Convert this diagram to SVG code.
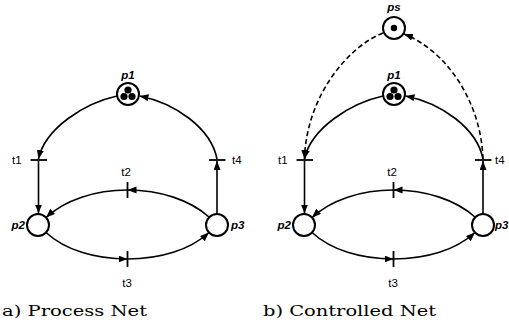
<svg xmlns="http://www.w3.org/2000/svg" width="509" height="324" viewBox="0 0 509 324">
<style>
.arc{fill:none;stroke:#000;stroke-width:1.6;marker-end:url(#ah)}
.dash{stroke-dasharray:5,3}
.place{fill:#fff;stroke:#000;stroke-width:2}
.bar{stroke:#000;stroke-width:1.8}
.tok{fill:#000}
.pl{font-family:"Liberation Sans",Arial,sans-serif;font-size:11.5px;font-weight:bold;font-style:italic}
.tl{font-family:"Liberation Sans",Arial,sans-serif;font-size:11.5px}
.cap{font-family:"DejaVu Serif","Liberation Serif",serif;font-size:15px}
</style>
<defs>
<marker id="ah" markerWidth="10" markerHeight="8" refX="9" refY="3.5" orient="auto" markerUnits="userSpaceOnUse">
<path d="M0,0 L9,3.5 L0,7 z" fill="#000"/>
</marker>
</defs>
<rect width="509" height="324" fill="#fff"/>
<g id="connectors">
<path class="arc" d="M117,96 C85,103 45,128 38.5,159"/>
<path class="arc" d="M38.5,161 L38.5,213.5"/>
<path class="arc" d="M217,214 L217,161"/>
<path class="arc" d="M217,159 C211,128 175,103 139.5,96"/>
<path class="arc" d="M209,217 C190,200 160,190 127.5,190"/>
<path class="arc" d="M127.5,190 C95,190 65,200 46,217.5"/>
<path class="arc" d="M46,232.5 C65,250 95,259 127.5,259"/>
<path class="arc" d="M127.5,259 C160,259 190,250 209,232.5"/>
<path class="arc" d="M383,96 C351,103 311,128 304.5,159"/>
<path class="arc" d="M304.5,161 L304.5,213.5"/>
<path class="arc" d="M483,214 L483,161"/>
<path class="arc" d="M483,159 C477,128 441,103 405.5,96"/>
<path class="arc" d="M475,217 C456,200 426,190 393.5,190"/>
<path class="arc" d="M393.5,190 C361,190 331,200 312,217.5"/>
<path class="arc" d="M312,232.5 C331,250 361,259 393.5,259"/>
<path class="arc" d="M393.5,259 C426,259 456,250 475,232.5"/>
<path class="arc dash" d="M383,33 C345,48 306,100 304.5,159"/>
<path class="arc dash" d="M483,159 C481,100 445,50 404,34"/>
</g>
<g id="a_p1"><circle class="place" cx="128" cy="94" r="11"/><circle class="tok" cx="128" cy="90" r="3.6"/><circle class="tok" cx="124" cy="96.5" r="3.6"/><circle class="tok" cx="132" cy="96.5" r="3.6"/><text class="pl" x="128" y="79" text-anchor="middle">p1</text></g>
<g id="a_p2"><circle class="place" cx="38" cy="225" r="11"/><text class="pl" x="25" y="229" text-anchor="end">p2</text></g>
<g id="a_p3"><circle class="place" cx="217" cy="225" r="11"/><text class="pl" x="231" y="229">p3</text></g>
<g id="a_t1"><line class="bar" x1="30.5" y1="160" x2="47" y2="160"/><text class="tl" x="12" y="164">t1</text></g>
<g id="a_t4"><line class="bar" x1="209" y1="160" x2="225.5" y2="160"/><text class="tl" x="232" y="164">t4</text></g>
<g id="a_t2"><line class="bar" x1="127.5" y1="182" x2="127.5" y2="198"/><text class="tl" x="126" y="176" text-anchor="middle">t2</text></g>
<g id="a_t3"><line class="bar" x1="127.5" y1="251" x2="127.5" y2="267"/><text class="tl" x="127" y="287" text-anchor="middle">t3</text></g>
<g id="b_ps"><circle class="place" cx="394" cy="28" r="11"/><circle class="tok" cx="394" cy="28" r="3.2"/><text class="pl" x="394" y="11" text-anchor="middle">ps</text></g>
<g id="b_p1"><circle class="place" cx="394" cy="94" r="11"/><circle class="tok" cx="394" cy="90" r="3.6"/><circle class="tok" cx="390" cy="96.5" r="3.6"/><circle class="tok" cx="398" cy="96.5" r="3.6"/><text class="pl" x="394" y="79" text-anchor="middle">p1</text></g>
<g id="b_p2"><circle class="place" cx="304" cy="225" r="11"/><text class="pl" x="291" y="229" text-anchor="end">p2</text></g>
<g id="b_p3"><circle class="place" cx="483" cy="225" r="11"/><text class="pl" x="495" y="229">p3</text></g>
<g id="b_t1"><line class="bar" x1="296.5" y1="160" x2="313" y2="160"/><text class="tl" x="278" y="164">t1</text></g>
<g id="b_t4"><line class="bar" x1="475" y1="160" x2="491.5" y2="160"/><text class="tl" x="495" y="164">t4</text></g>
<g id="b_t2"><line class="bar" x1="393.5" y1="182" x2="393.5" y2="198"/><text class="tl" x="392" y="176" text-anchor="middle">t2</text></g>
<g id="b_t3"><line class="bar" x1="393.5" y1="251" x2="393.5" y2="267"/><text class="tl" x="393" y="287" text-anchor="middle">t3</text></g>
<text class="cap" x="2" y="316" textLength="145" lengthAdjust="spacingAndGlyphs">a) Process Net</text>
<text class="cap" x="263" y="316" textLength="173" lengthAdjust="spacingAndGlyphs">b) Controlled Net</text>
</svg>
